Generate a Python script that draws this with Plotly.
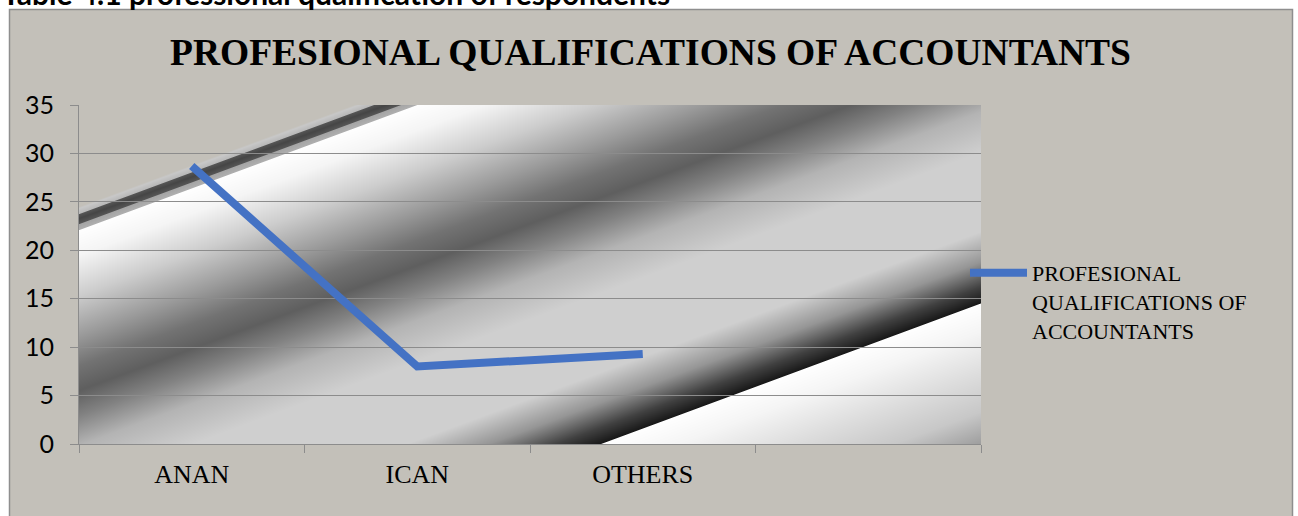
import base64
import struct
import zlib

import numpy as np
import plotly.graph_objects as go

# ---------------- data ----------------
categories = ["ANAN", "ICAN", "OTHERS"]
values = [28.7, 8.0, 9.3]
series_name = "PROFESIONAL QUALIFICATIONS OF ACCOUNTANTS"
legend_label = "PROFESIONAL<br>QUALIFICATIONS OF<br>ACCOUNTANTS"
y_ticks = [0, 5, 10, 15, 20, 25, 30, 35]
chart_title = "PROFESIONAL QUALIFICATIONS OF ACCOUNTANTS"
caption = "Table 4.1 professional qualification of respondents"

# ---------------- geometry / style ----------------
W, H = 1298, 516
PL, PR, PT, PB = 79, 981, 105, 444
PW, PH = PR - PL, PB - PT

BEIGE = (195, 192, 185)
GRID = "#8C8C8C"
LINE_BLUE = "#4472C4"


def px_x(p):
    return (p - PL) / PW


def px_y(p):
    return (PB - p) / PH


# diagonal gradient backdrop of the plot area (decorative fill)
SLOPE = 0.37
grad_pos = [0, 101, 103, 108, 109, 113, 118, 119, 124, 125, 150, 190, 230, 260, 285,
            310, 340, 380, 460, 490, 515, 531, 532, 560, 600, 640, 690]
grad_gray = [None, None, 200, 185, 85, 70, 85, 165, 175, 255, 245, 205, 155, 115, 95,
             130, 180, 207, 207, 150, 65, 25, 255, 245, 222, 200, 135]


def gradient_png():
    yy, xx = np.mgrid[0:PH, 0:PW].astype(float)
    s = yy + SLOPE * xx
    chans = []
    for c in range(3):
        vals = [BEIGE[c] if g is None else g for g in grad_gray]
        chans.append(np.interp(s, grad_pos, vals))
    arr = np.clip(np.stack(chans, axis=-1), 0, 255).astype(np.uint8)
    h, w, _ = arr.shape
    raw = b"".join(b"\x00" + arr[i].tobytes() for i in range(h))

    def chunk(t, d):
        c = struct.pack(">I", len(d)) + t + d
        return c + struct.pack(">I", zlib.crc32(t + d) & 0xFFFFFFFF)

    png = (b"\x89PNG\r\n\x1a\n"
           + chunk(b"IHDR", struct.pack(">IIBBBBB", w, h, 8, 2, 0, 0, 0))
           + chunk(b"IDAT", zlib.compress(raw, 9))
           + chunk(b"IEND", b""))
    return "data:image/png;base64," + base64.b64encode(png).decode()


fig = go.Figure()
fig.add_trace(go.Scatter(
    x=categories, y=values, mode="lines", name=legend_label,
    line=dict(color=LINE_BLUE, width=8),
    hovertemplate=series_name + "<br>%{x}: %{y}<extra></extra>",
))

fig.update_layout(
    width=W, height=H,
    margin=dict(l=PL, r=W - PR, t=PT, b=H - PB, pad=0),
    paper_bgcolor="rgb(%d,%d,%d)" % BEIGE,
    plot_bgcolor="rgb(%d,%d,%d)" % BEIGE,
    title=dict(text=chart_title, x=650.5 / W, xref="container", xanchor="center",
               y=1 - 52 / H, yref="container", yanchor="middle",
               font=dict(family="Liberation Serif", size=37.5, color="black", weight="bold")),
    xaxis=dict(type="category", categoryorder="array", categoryarray=categories + [" "],
               range=[-0.5, 3.5], tickson="boundaries", ticks="outside", ticklen=8,
               tickcolor=GRID, showline=True, linecolor=GRID, linewidth=1, showgrid=False,
               zeroline=False, ticklabelstandoff=7,
               tickfont=dict(family="Liberation Serif", size=26, color="black")),
    yaxis=dict(range=[0, 35], tickvals=y_ticks, ticks="outside", ticklen=8, tickcolor=GRID,
               showline=True, linecolor=GRID, linewidth=1, showgrid=True, gridcolor=GRID,
               gridwidth=1, zeroline=False, ticklabelstandoff=11,
               tickfont=dict(family="Lato", size=25, color="black")),
    showlegend=True,
    legend=dict(x=px_x(965), xanchor="left", y=px_y(252), yanchor="top",
                bgcolor="rgba(0,0,0,0)", valign="top", itemwidth=57,
                font=dict(family="Liberation Serif", size=22, color="black")),
    images=[dict(source=gradient_png(), xref="paper", yref="paper", x=0, y=1,
                 sizex=1, sizey=1, xanchor="left", yanchor="top", sizing="stretch",
                 layer="below")],
    shapes=[
        dict(type="rect", xref="paper", yref="paper", x0=px_x(-20), x1=px_x(W + 20),
             y0=px_y(9), y1=px_y(-30), fillcolor="white", line=dict(width=0), layer="above"),
        dict(type="rect", xref="paper", yref="paper", x0=px_x(-20), x1=px_x(9),
             y0=px_y(H + 20), y1=px_y(-30), fillcolor="white", line=dict(width=0), layer="above"),
        dict(type="rect", xref="paper", yref="paper", x0=px_x(1293), x1=px_x(W + 20),
             y0=px_y(H + 20), y1=px_y(-30), fillcolor="white", line=dict(width=0), layer="above"),
        dict(type="rect", xref="paper", yref="paper", x0=px_x(9.5), x1=px_x(1292.5),
             y0=px_y(H + 20), y1=px_y(9.5), fillcolor="rgba(0,0,0,0)",
             line=dict(color="#8E8E8E", width=1.5), layer="above"),
    ],
    annotations=[dict(text=caption, xref="paper", yref="paper", x=px_x(0), y=px_y(13),
                      xanchor="left", yanchor="bottom", showarrow=False,
                      font=dict(family="Lato", size=30, color="black", weight="bold"))],
)

fig.write_html("out.html")
